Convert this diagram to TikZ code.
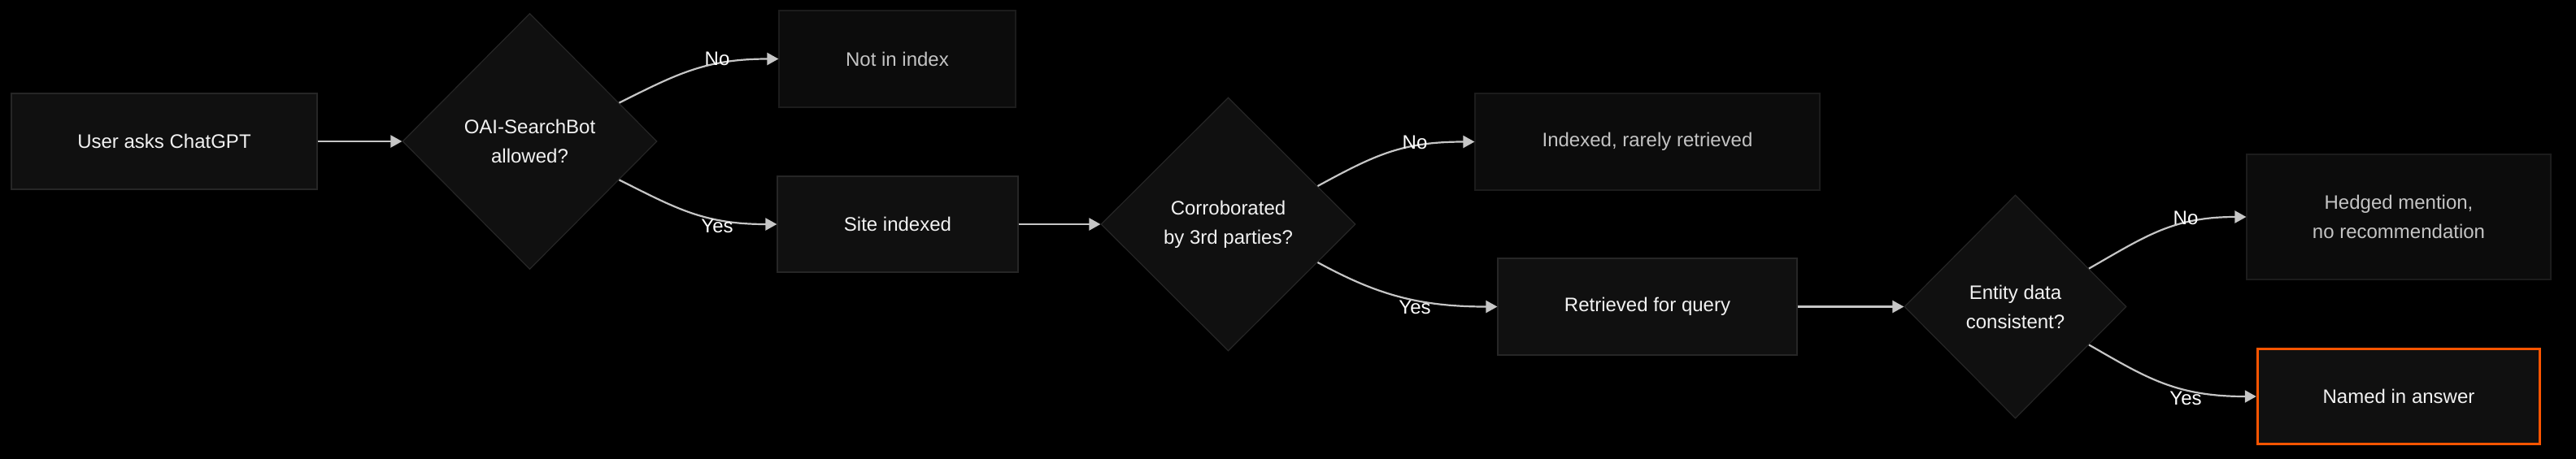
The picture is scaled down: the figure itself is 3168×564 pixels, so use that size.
\documentclass[tikz,border=0pt]{standalone}
\usepackage{fontspec}
\setmainfont{Liberation Sans}
\usetikzlibrary{shapes.geometric,arrows.meta,calc}
\definecolor{bg}{HTML}{000000}
\definecolor{boxfill}{HTML}{101010}
\definecolor{dimfill}{HTML}{0C0C0C}
\definecolor{boxline}{HTML}{262626}
\definecolor{dimline}{HTML}{1C1C1C}
\definecolor{maintext}{HTML}{F2F2F2}
\definecolor{dimtext}{HTML}{C4C4C4}
\definecolor{edgecol}{HTML}{C6C6C6}
\definecolor{accent}{HTML}{FF5500}
\tikzset{
  stepbox/.style={rectangle, draw=boxline, line width=0.6pt, fill=boxfill, text=maintext,
    font=\fontsize{12}{18}\selectfont, align=center, inner sep=0pt},
  dimbox/.style={stepbox, draw=dimline, fill=dimfill, text=dimtext},
  decision/.style={diamond, draw=boxline, line width=0.6pt, fill=boxfill, text=maintext,
    font=\fontsize{12}{18}\selectfont, align=center, inner sep=0pt, aspect=1},
  accentbox/.style={stepbox, draw=accent, line width=1.75pt},
  flow/.style={draw=edgecol, line width=1.1pt, -{Triangle[length=7pt,width=7.5pt]}},
  edgelabel/.style={text=white, font=\fontsize{12}{14}\selectfont, inner sep=0pt}
}
\begin{document}
\begin{tikzpicture}[x=0.5pt,y=-0.5pt]
\useasboundingbox (0,0) rectangle (3168,564);
\fill[bg] (-20,-20) rectangle (3188,584);

\node[stepbox, minimum width=188pt, minimum height=59pt] (user) at (202,174) {User asks ChatGPT};
\node[decision, minimum width=156.5pt, minimum height=157.5pt] (d1) at (651.5,174) {OAI-SearchBot\\allowed?};
\node[dimbox, minimum width=145.5pt, minimum height=59.5pt] (notidx) at (1103.5,72.5) {Not in index};
\node[stepbox, minimum width=148pt, minimum height=59pt] (site) at (1104,276) {Site indexed};
\node[decision, minimum width=156.5pt, minimum height=156pt] (d2) at (1510.5,276) {Corroborated\\by 3rd parties?};
\node[dimbox, minimum width=212pt, minimum height=59.5pt] (rarely) at (2026,174.5) {Indexed, rarely retrieved};
\node[stepbox, minimum width=184pt, minimum height=59.5pt] (retr) at (2026,377.5) {Retrieved for query};
\node[decision, minimum width=136.5pt, minimum height=137.5pt] (d3) at (2478.5,377.5) {Entity data\\consistent?};
\node[dimbox, minimum width=187pt, minimum height=77pt] (hedged) at (2950,267) {Hedged mention,\\no recommendation};
\node[accentbox, minimum width=173.5pt, minimum height=58.5pt] (named) at (2950,488) {Named in answer};

\coordinate (d1no) at ($(d1.east)!0.3!(d1.north)$);
\coordinate (d1yes) at ($(d1.east)!0.3!(d1.south)$);
\coordinate (d2no) at ($(d2.east)!0.3!(d2.north)$);
\coordinate (d2yes) at ($(d2.east)!0.3!(d2.south)$);
\coordinate (d3no) at ($(d3.east)!0.34!(d3.north)$);
\coordinate (d3yes) at ($(d3.east)!0.34!(d3.south)$);

\draw[flow] (user.east) -- (d1.west);
\draw[flow] (site.east) -- (d2.west);
\draw[flow] (retr.east) -- (d3.west);

\draw[flow] (d1no) .. controls +(70,-35) and +(-90,0) .. (notidx.west);
\draw[flow] (d1yes) .. controls +(70,35) and +(-90,0) .. (site.west);
\draw[flow] (d2no) .. controls +(70,-38) and +(-90,0) .. (rarely.west);
\draw[flow] (d2yes) .. controls +(70,38) and +(-100,0) .. (retr.west);
\draw[flow] (d3no) .. controls +(70,-40) and +(-90,0) .. (hedged.west);
\draw[flow] (d3yes) .. controls +(70,40) and +(-100,0) .. (named.west);

\node[edgelabel] (l1) at (882,72) {No};
\node[edgelabel] (l2) at (882,278) {Yes};
\node[edgelabel] (l3) at (1740,175) {No};
\node[edgelabel] (l4) at (1740,378) {Yes};
\node[edgelabel] (l5) at (2688,268) {No};
\node[edgelabel] (l6) at (2688,490) {Yes};
\end{tikzpicture}
\end{document}
